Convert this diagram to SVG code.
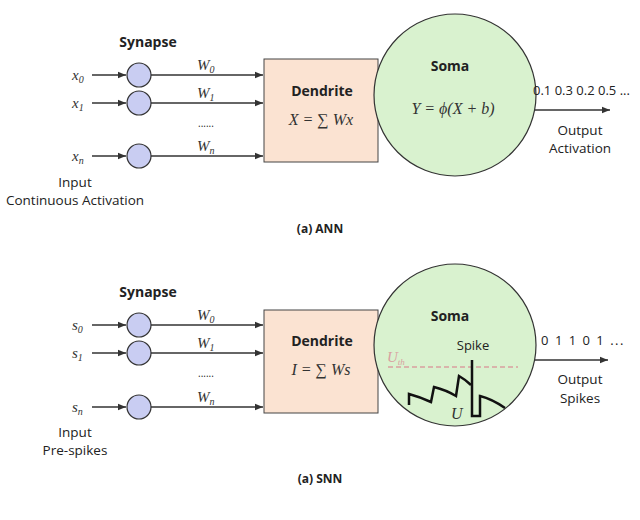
<svg xmlns="http://www.w3.org/2000/svg" width="640" height="520" viewBox="0 0 640 520">
<defs>
<marker id="ah" viewBox="0 0 10 10" refX="10" refY="5" markerWidth="8" markerHeight="8" markerUnits="userSpaceOnUse" orient="auto"><path d="M0,1 L10,5 L0,9 Z" fill="#333"/></marker>
<style>
.s{font-family:"Open Sans","DejaVu Sans",sans-serif;fill:#222}
.b{font-weight:bold}
.m{font-family:"Liberation Serif",serif;font-style:italic;fill:#333}
.ln{stroke:#333;stroke-width:1.3;fill:none}
.syn{fill:#c9cdf2;stroke:#333;stroke-width:1.2}
.den{fill:#fbe3d2;stroke:#444;stroke-width:1}
.soma{fill:#d9f2cf;stroke:#333;stroke-width:1.2}
</style>
</defs>
<rect width="640" height="520" fill="#fff"/>
<g id="connectors">
<g class="ln" marker-end="url(#ah)">
<path d="M92,75 H126"/><path d="M92,103 H126"/><path d="M92,156 H126"/>
<path d="M151,75 H263"/><path d="M151,103 H263"/><path d="M151,156 H263"/>
<path d="M535,110 H610"/>
<path d="M92,325 H126"/><path d="M92,353 H126"/><path d="M92,407 H126"/>
<path d="M151,325 H263"/><path d="M151,353 H263"/><path d="M151,407 H263"/>
<path d="M535,360 H608"/>
</g>
</g>
<g id="ann">
<text class="s b" x="148" y="47" font-size="14" text-anchor="middle">Synapse</text>
<g id="ann-syn"><circle class="syn" cx="139" cy="75" r="12"/><circle class="syn" cx="139" cy="103" r="12"/><circle class="syn" cx="139" cy="156" r="12"/></g>
<text class="m" x="72" y="80" font-size="15">x<tspan font-size="10" dy="3">0</tspan></text>
<text class="m" x="72" y="108" font-size="15">x<tspan font-size="10" dy="3">1</tspan></text>
<text class="m" x="72" y="161" font-size="15">x<tspan font-size="10" dy="3">n</tspan></text>
<text class="m" x="197" y="70" font-size="15">W<tspan font-size="10" dy="3">0</tspan></text>
<text class="m" x="197" y="98" font-size="15">W<tspan font-size="10" dy="3">1</tspan></text>
<text class="s" x="206" y="127" font-size="10" text-anchor="middle">......</text>
<text class="m" x="197" y="151" font-size="15">W<tspan font-size="10" dy="3">n</tspan></text>
<text class="s" x="75" y="187" font-size="13.5" text-anchor="middle">Input</text>
<text class="s" x="75" y="205" font-size="13.5" text-anchor="middle">Continuous Activation</text>
<g id="ann-dendrite"><rect class="den" x="264" y="59" width="114" height="103"/>
<text class="s b" x="322" y="96" font-size="14" text-anchor="middle">Dendrite</text>
<text class="m" x="321" y="125" font-size="16" text-anchor="middle">X = ∑ Wx</text></g>
<g id="ann-soma"><circle class="soma" cx="455" cy="95" r="81"/>
<text class="s b" x="450" y="71" font-size="14" text-anchor="middle">Soma</text>
<text class="m" x="453" y="114" font-size="16" text-anchor="middle">Y = ϕ(X + b)</text></g>
<text class="s" x="533" y="95" font-size="13">0.1 0.3 0.2 0.5 ...</text>
<text class="s" x="580" y="135" font-size="13.5" text-anchor="middle">Output</text>
<text class="s" x="580" y="153" font-size="13.5" text-anchor="middle">Activation</text>
<text class="s b" x="320" y="233" font-size="12" text-anchor="middle">(a) ANN</text>
</g>
<g id="snn">
<text class="s b" x="148" y="297" font-size="14" text-anchor="middle">Synapse</text>
<g id="snn-syn"><circle class="syn" cx="139" cy="325" r="12"/><circle class="syn" cx="139" cy="353" r="12"/><circle class="syn" cx="139" cy="407" r="12"/></g>
<text class="m" x="72" y="330" font-size="15">s<tspan font-size="10" dy="3">0</tspan></text>
<text class="m" x="72" y="358" font-size="15">s<tspan font-size="10" dy="3">1</tspan></text>
<text class="m" x="72" y="412" font-size="15">s<tspan font-size="10" dy="3">n</tspan></text>
<text class="m" x="197" y="320" font-size="15">W<tspan font-size="10" dy="3">0</tspan></text>
<text class="m" x="197" y="348" font-size="15">W<tspan font-size="10" dy="3">1</tspan></text>
<text class="s" x="206" y="377" font-size="10" text-anchor="middle">......</text>
<text class="m" x="197" y="402" font-size="15">W<tspan font-size="10" dy="3">n</tspan></text>
<text class="s" x="75" y="437" font-size="13.5" text-anchor="middle">Input</text>
<text class="s" x="75" y="455" font-size="13.5" text-anchor="middle">Pre-spikes</text>
<g id="snn-dendrite"><rect class="den" x="264" y="310" width="114" height="103"/>
<text class="s b" x="322" y="346" font-size="14" text-anchor="middle">Dendrite</text>
<text class="m" x="321" y="375" font-size="16" text-anchor="middle">I = ∑ Ws</text></g>
<g id="snn-soma"><circle class="soma" cx="455" cy="345" r="81"/>
<text class="s b" x="450" y="321" font-size="14" text-anchor="middle">Soma</text>
<text class="s" x="473" y="350" font-size="13" text-anchor="middle">Spike</text>
<text class="m" x="387" y="362" font-size="15" style="fill:#d9a0a0">U<tspan font-size="9" dy="3">th</tspan></text>
<path d="M388,367 H518" stroke="#d9a0a0" stroke-width="1.3" stroke-dasharray="5,3"/>
<path d="M409,405 V394 Q420,397 431,402 L434,387 Q446,390 456,396 L459,376 Q466,380 471,385" fill="none" stroke="#111" stroke-width="2.5"/>
<path d="M472,360 V416 H480 V396 Q492,399 505,408" fill="none" stroke="#111" stroke-width="2.5"/>
<text class="m" x="451" y="419" font-size="16">U</text></g>
<text class="s" x="583" y="345" font-size="13" text-anchor="middle" letter-spacing="1.5">0 1 1 0 1 ...</text>
<text class="s" x="580" y="384" font-size="13.5" text-anchor="middle">Output</text>
<text class="s" x="580" y="403" font-size="13.5" text-anchor="middle">Spikes</text>
<text class="s b" x="320" y="483" font-size="12" text-anchor="middle">(a) SNN</text>
</g>
</svg>
